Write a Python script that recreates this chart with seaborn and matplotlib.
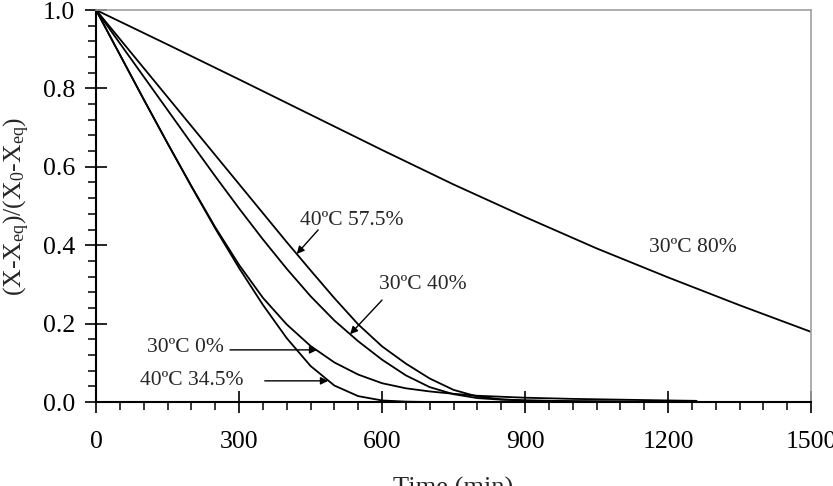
import numpy as np
import pandas as pd
import matplotlib
matplotlib.use("Agg")
import matplotlib.pyplot as plt
import seaborn as sns
from matplotlib.ticker import MultipleLocator, FormatStrFormatter

# Datos
t_fast = [0, 50, 100, 150, 200, 250, 300, 350, 400, 450, 500, 550, 600, 650, 700, 800, 1000]
y_40_345 = [1.0, 0.886, 0.772, 0.66, 0.55, 0.443, 0.342, 0.248, 0.163, 0.092, 0.042, 0.015, 0.004, 0.001, 0.0, 0.0, 0.0]

t_30_0 = [0, 50, 100, 150, 200, 250, 300, 350, 400, 450, 500, 550, 600, 650, 700, 750, 800, 900, 1000, 1100, 1200, 1260]
y_30_0 = [1.0, 0.886, 0.772, 0.66, 0.551, 0.446, 0.35, 0.266, 0.198, 0.143, 0.101, 0.07, 0.048, 0.035, 0.027, 0.021, 0.016, 0.011, 0.008, 0.006, 0.004, 0.003]

t_mid = [0, 50, 100, 150, 200, 250, 300, 350, 400, 450, 500, 550, 600, 650, 700, 750, 800, 850, 900, 1000, 1100, 1200]
y_30_40 = [1.0, 0.915, 0.83, 0.745, 0.66, 0.576, 0.494, 0.415, 0.34, 0.27, 0.208, 0.155, 0.108, 0.068, 0.038, 0.02, 0.01, 0.006, 0.004, 0.002, 0.001, 0.0]
y_40_575 = [1.0, 0.926, 0.852, 0.778, 0.704, 0.63, 0.556, 0.482, 0.408, 0.336, 0.265, 0.198, 0.142, 0.098, 0.06, 0.031, 0.014, 0.007, 0.004, 0.002, 0.001, 0.0]

t_slow = [0, 150, 300, 450, 600, 750, 900, 1050, 1200, 1350, 1500]
y_30_80 = [1.0, 0.912, 0.823, 0.733, 0.643, 0.555, 0.472, 0.392, 0.318, 0.247, 0.179]

sns.set_style("ticks")
plt.rcParams['font.family'] = ['Liberation Serif', 'DejaVu Serif']
plt.rcParams['mathtext.default'] = 'regular'

fig = plt.figure(figsize=(8.33, 4.86), dpi=100)
ax = fig.add_axes([0.1153, 0.1728, 0.8583, 0.8066])

curvas = [(t_fast, y_40_345), (t_30_0, y_30_0), (t_mid, y_30_40), (t_mid, y_40_575), (t_slow, y_30_80)]
for t, y in curvas:
    sns.lineplot(x=t, y=y, ax=ax, color='black', linewidth=1.3, sort=False)

ax.set_xlim(0, 1500)
ax.set_ylim(0, 1.0)
ax.xaxis.set_major_locator(MultipleLocator(300))
ax.xaxis.set_minor_locator(MultipleLocator(50))
ax.yaxis.set_major_locator(MultipleLocator(0.2))
ax.yaxis.set_minor_locator(MultipleLocator(0.04))
ax.yaxis.set_major_formatter(FormatStrFormatter('%.1f'))

ax.tick_params(which='major', direction='inout', length=16, width=1.2, colors='black', labelsize=18.5)
ax.tick_params(axis='x', which='major', pad=13)
ax.tick_params(axis='y', which='major', pad=7)
ax.tick_params(which='minor', direction='out', length=6, width=1.1, colors='black')

for s in ['left', 'bottom']:
    ax.spines[s].set_linewidth(1.5)
    ax.spines[s].set_color('black')
for s in ['top', 'right']:
    ax.spines[s].set_linewidth(1.2)
    ax.spines[s].set_color('#a0a0a0')

ax.set_xlabel('Time (min)', fontsize=19)
ax.set_ylabel('(X-X$_{eq}$)/(X$_0$-X$_{eq}$)', fontsize=18.5)
ax.xaxis.set_label_coords(0.5, -0.19)
ax.yaxis.set_label_coords(-0.09, 0.5)

# Etiquetas y flechas
flecha = dict(arrowstyle='-|>', color='black', lw=1.0, mutation_scale=11, shrinkA=0, shrinkB=0)
fs = 15.5

ax.text(537, 0.464, '40ºC 57.5%', ha='center', va='center', fontsize=fs)
ax.annotate('', xy=(421, np.interp(421, t_mid, y_40_575)), xytext=(466, 0.439), arrowprops=flecha)

ax.text(686, 0.301, '30ºC 40%', ha='center', va='center', fontsize=fs)
ax.annotate('', xy=(533, np.interp(533, t_mid, y_30_40)), xytext=(600, 0.26), arrowprops=flecha)

ax.text(187, 0.138, '30ºC 0%', ha='center', va='center', fontsize=fs)
ax.annotate('', xy=(464, 0.133), xytext=(281, 0.133), arrowprops=flecha)

ax.text(201, 0.056, '40ºC 34.5%', ha='center', va='center', fontsize=fs)
ax.annotate('', xy=(487, 0.054), xytext=(354, 0.054), arrowprops=flecha)

ax.text(1252, 0.393, '30ºC 80%', ha='center', va='center', fontsize=fs)

fig.savefig('out.png', dpi=100)
